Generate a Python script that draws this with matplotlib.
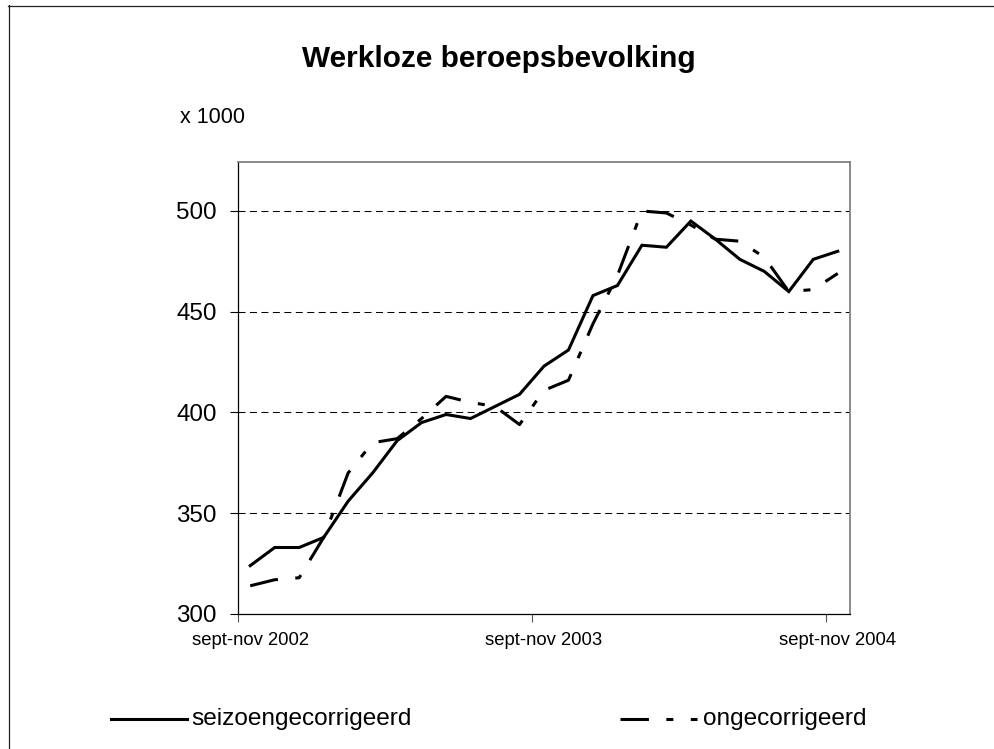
import matplotlib
matplotlib.use("Agg")
import matplotlib.pyplot as plt
from matplotlib.lines import Line2D
import numpy as np

plt.rcParams['font.family'] = ['Liberation Sans', 'DejaVu Sans']

title = "Werkloze beroepsbevolking"
unit_label = "x 1000"
periods = ["sept-nov 2002", "okt-dec 2002", "nov-jan 2003", "dec-feb 2003", "jan-mrt 2003",
           "feb-apr 2003", "mrt-mei 2003", "apr-jun 2003", "mei-jul 2003", "jun-aug 2003",
           "jul-sep 2003", "aug-okt 2003", "sept-nov 2003", "okt-dec 2003", "nov-jan 2004",
           "dec-feb 2004", "jan-mrt 2004", "feb-apr 2004", "mrt-mei 2004", "apr-jun 2004",
           "mei-jul 2004", "jun-aug 2004", "jul-sep 2004", "aug-okt 2004", "sept-nov 2004"]
seizoen = [324, 333, 333, 338, 356, 370, 386, 395, 399, 397, 403, 409, 423, 431,
           458, 463, 483, 482, 495, 486, 476, 470, 460, 476, 480]
onge = [314, 317, 318, 338, 370, 385, 387, 397, 408, 405, 403, 394, 411, 416,
        444, 468, 500, 499, 493, 486, 485, 477, 460, 461, 469]
series_names = ["seizoengecorrigeerd", "ongecorrigeerd"]
label_every = 12
yticks = [300, 350, 400, 450, 500]

W, H = 994, 749
fig = plt.figure(figsize=(W / 100, H / 100), dpi=100)
ax = fig.add_axes([238 / W, 1 - 614 / H, (850 - 238) / W, (614 - 162) / H])

x = np.arange(len(periods)) + 0.5
dash_style = (0, (9.3, 5.7, 2.3, 5.7))
ax.plot(x, seizoen, color='black', lw=2.2, solid_joinstyle='miter', zorder=3)
ax.plot(x, onge, color='black', lw=2.2, linestyle=dash_style, dash_capstyle='butt', zorder=4)

ax.set_xlim(0, len(periods))
ax.set_ylim(300, 524.3)
ax.set_yticks(yticks)
ax.set_yticklabels([str(v) for v in yticks], fontsize=17.4)
ax.tick_params(axis='y', direction='out', length=5.8, width=0.8, pad=9.4, color='black')

# major ticks at category boundaries, labels at category centres
ax.set_xticks(np.arange(0, len(periods) + 1, label_every))
ax.set_xticklabels([])
ax.tick_params(axis='x', which='major', direction='out', length=5.5, width=0.8, color='#555555')
lab_idx = list(range(0, len(periods), label_every))
ax.set_xticks(x[lab_idx], minor=True)
ax.set_xticklabels([periods[i] for i in lab_idx], minor=True, fontsize=13.3)
ax.tick_params(axis='x', which='minor', length=0, pad=13)

for v in yticks[1:]:
    ax.axhline(v, color='black', lw=0.75, linestyle=(0, (6.7, 4.3)), zorder=1)

for side in ['top', 'right']:
    ax.spines[side].set_color('#808080')
    ax.spines[side].set_linewidth(1.3)
for side in ['left', 'bottom']:
    ax.spines[side].set_color('black')
    ax.spines[side].set_linewidth(0.9)

# title and unit label
fig.text(498.4 / W, 1 - 66.7 / H, title, ha='center', va='baseline', fontsize=21.4, fontweight='bold')
fig.text(180 / W, 1 - 123 / H, unit_label, ha='left', va='baseline', fontsize=15.5)

# outer frame (extends beyond the right and bottom edge)
fig.add_artist(Line2D([8.5 / W, 8.5 / W], [1 - 5 / H, 0], transform=fig.transFigure, color='#222222', lw=0.9))
fig.add_artist(Line2D([8 / W, 1], [1 - 5.5 / H, 1 - 5.5 / H], transform=fig.transFigure, color='#222222', lw=0.9))

# legend
ly = 1 - 719 / H
fig.add_artist(Line2D([110.7 / W, 186.7 / W], [ly, ly], transform=fig.transFigure, color='black', lw=2.2))
fig.text(191.7 / W, 1 - 725 / H, series_names[0], ha='left', va='baseline', fontsize=17.6)
fig.add_artist(Line2D([620 / W, 697 / W], [ly, ly], transform=fig.transFigure, color='black', lw=2.2,
                      linestyle=dash_style, dash_capstyle='butt'))
fig.text(702.7 / W, 1 - 725 / H, series_names[1], ha='left', va='baseline', fontsize=17.6)

fig.savefig("out.png", dpi=100)
